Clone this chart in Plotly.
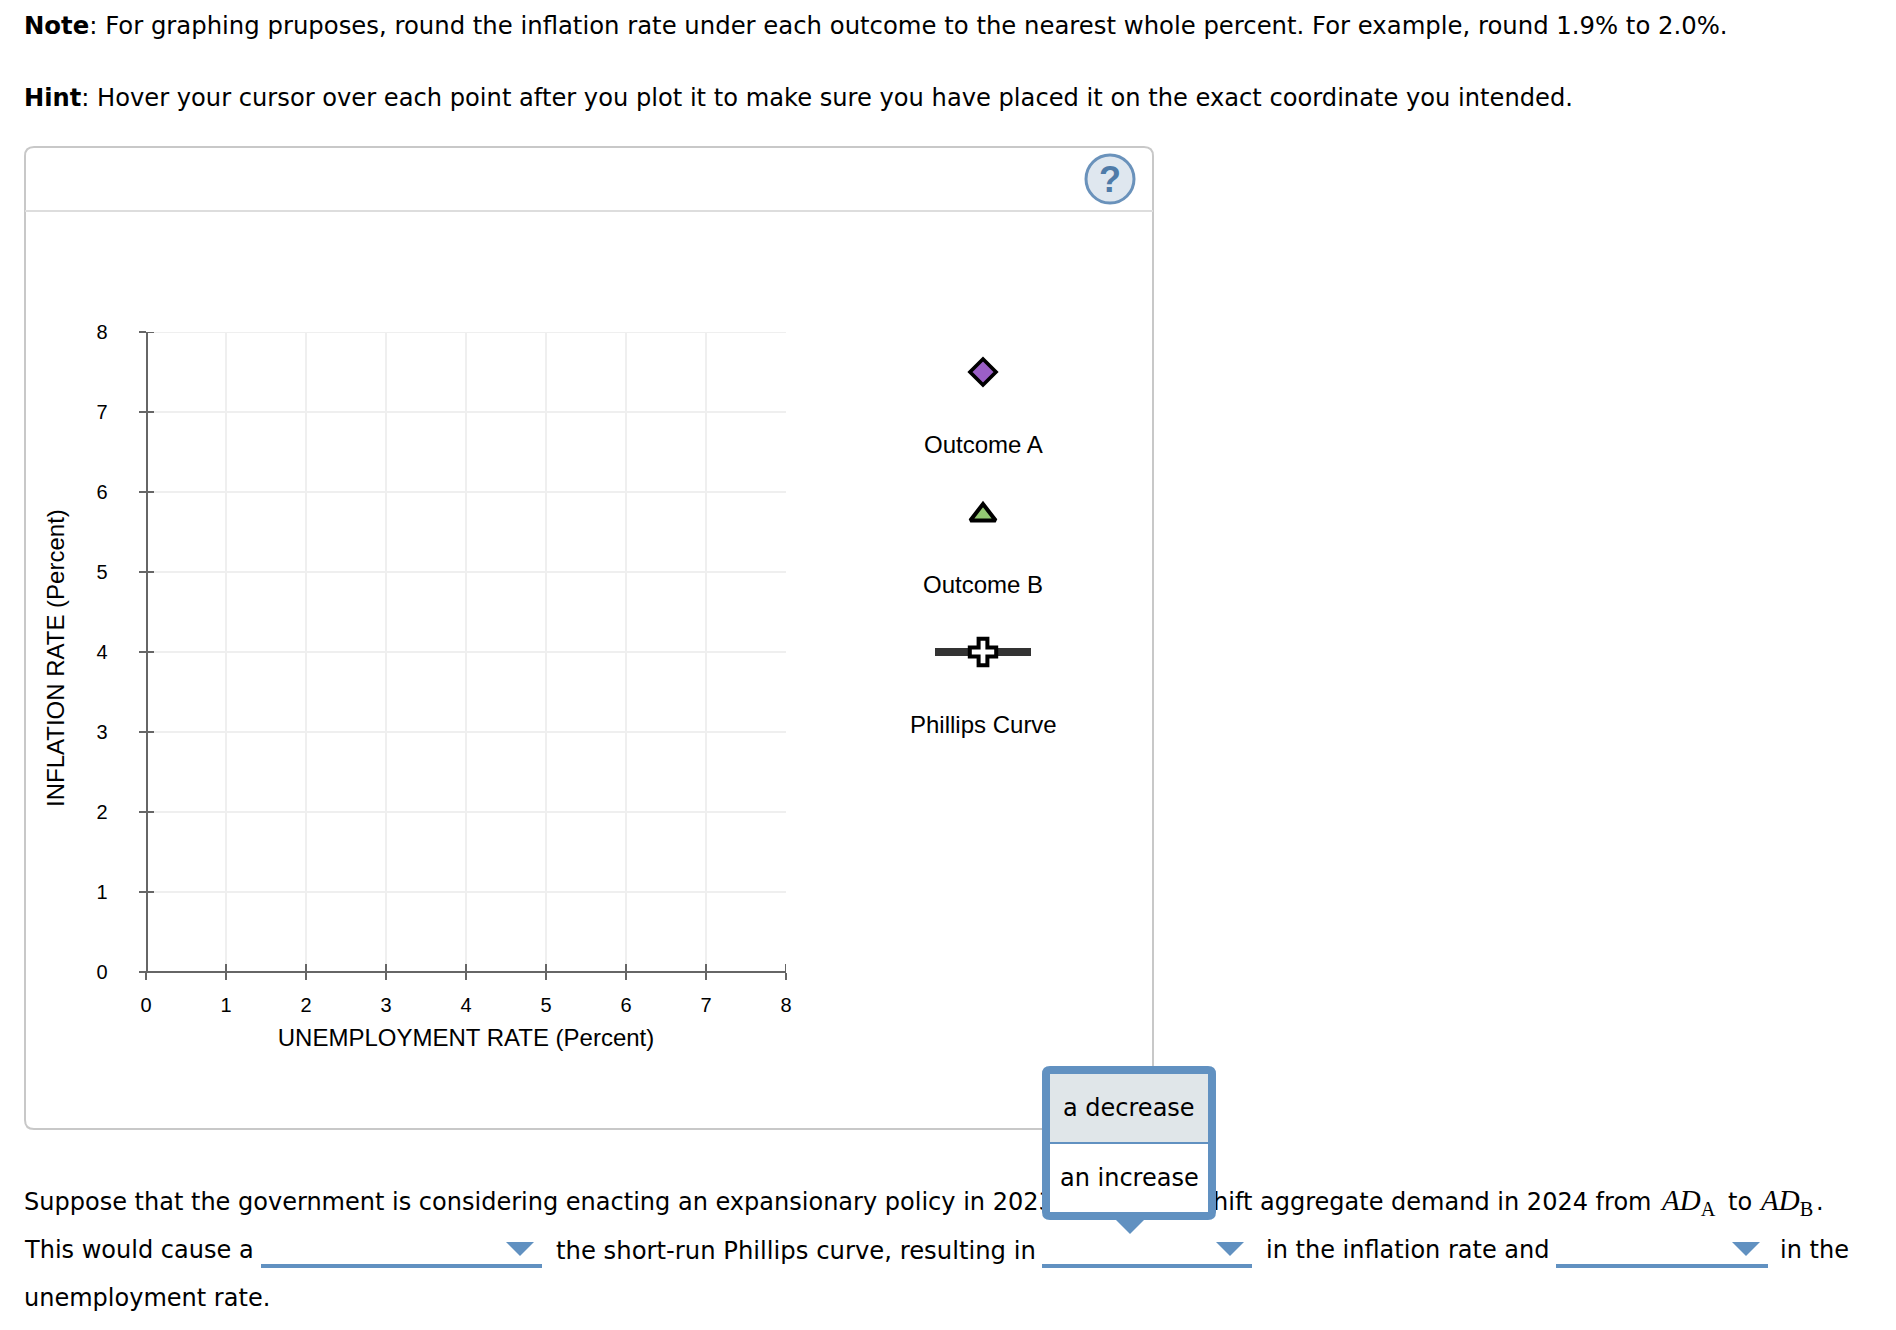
import plotly.graph_objects as go

x_ticks = [0, 1, 2, 3, 4, 5, 6, 7, 8]
y_ticks = [0, 1, 2, 3, 4, 5, 6, 7, 8]
x_title = "UNEMPLOYMENT RATE (Percent)"
y_title = "INFLATION RATE (Percent)"

palette_labels = ["Outcome A", "Outcome B", "Phillips Curve"]
dropdown_options = ["a decrease", "an increase"]

# page is 1896x1330, browser keeps 8px of body margin around the plot
page_margin = 8
W = 1880
H = 1314
blue = "#6191c1"
body_font = "DejaVu Sans"
chart_font = "Liberation Sans"
body_size = 24.03


def round_rect(x0, y0, x1, y1, r):
    return (f"M {x0+r} {y0} L {x1-r} {y0} Q {x1} {y0} {x1} {y0+r} L {x1} {y1-r} Q {x1} {y1} {x1-r} {y1} "
            f"L {x0+r} {y1} Q {x0} {y1} {x0} {y1-r} L {x0} {y0+r} Q {x0} {y0} {x0+r} {y0} Z")


fig = go.Figure()

# layout pieces live on a second pair of axes that count page pixels
fig.add_trace(go.Scatter(x=[935, 1031], y=[652, 652], mode="lines", xaxis="x2", yaxis="y2",
                         line=dict(color="#333333", width=8), hoverinfo="skip", showlegend=False))
fig.add_trace(go.Scatter(x=[983], y=[372], mode="markers", xaxis="x2", yaxis="y2", showlegend=False,
                         marker=dict(symbol="diamond", size=20, color="#9b5fc6", line=dict(color="black", width=3.7))))
fig.add_trace(go.Scatter(x=[983], y=[515], mode="markers", xaxis="x2", yaxis="y2", showlegend=False,
                         marker=dict(symbol="triangle-up", size=22, color="#94c973", line=dict(color="black", width=4))))
fig.add_trace(go.Scatter(x=[983], y=[652], mode="markers", xaxis="x2", yaxis="y2", showlegend=False,
                         marker=dict(symbol="cross", size=22, color="white", line=dict(color="black", width=4))))

# these two run under the open dropdown, so they have to be in the trace layer
fig.add_trace(go.Scatter(x=[24], y=[1204], mode="text", xaxis="x2", yaxis="y2", showlegend=False,
                         text=["Suppose that the government is considering enacting an expansionary policy in 2023"],
                         textposition="middle right", textfont=dict(family=body_font, size=body_size, color="black")))
fig.add_trace(go.Scatter(x=[1200.5], y=[1204], mode="text", xaxis="x2", yaxis="y2", showlegend=False,
                         text=["shift aggregate demand in 2024 from"],
                         textposition="middle right", textfont=dict(family=body_font, size=body_size, color="black")))

fig.update_layout(
    width=W, height=H, margin=dict(l=0, r=0, t=0, b=0, autoexpand=False), autosize=False,
    paper_bgcolor="white", plot_bgcolor="rgba(0,0,0,0)", showlegend=False,
    xaxis=dict(domain=[(146 - page_margin) / W, (786 - page_margin) / W], range=[0, 8], automargin=False,
               anchor="free", position=(H + page_margin - 971.5) / H,
               tickmode="array", tickvals=x_ticks, ticktext=[str(t) for t in x_ticks],
               ticks="outside", ticklen=7, tickwidth=2, tickcolor="#666666",
               showline=True, linecolor="#666666", linewidth=2,
               showgrid=True, gridcolor="#efefef", gridwidth=2, zeroline=False,
               ticklabelstandoff=8, tickfont=dict(family=chart_font, size=20, color="black"),
               title=dict(text=x_title, standoff=14, font=dict(family=chart_font, size=24, color="black"))),
    yaxis=dict(domain=[(H + page_margin - 972) / H, (H + page_margin - 332) / H], range=[0, 8], automargin=False,
               anchor="free", position=(146.5 - page_margin) / W,
               tickmode="array", tickvals=y_ticks, ticktext=[str(t) for t in y_ticks],
               ticks="outside", ticklen=7, tickwidth=2, tickcolor="#666666",
               showline=True, linecolor="#666666", linewidth=2,
               showgrid=True, gridcolor="#efefef", gridwidth=2, zeroline=False,
               ticklabelstandoff=27, tickfont=dict(family=chart_font, size=20, color="black")),
    xaxis2=dict(domain=[0, 1], range=[page_margin, W + page_margin], visible=False, anchor="y2", automargin=False),
    yaxis2=dict(domain=[0, 1], range=[H + page_margin, page_margin], visible=False, anchor="x2", automargin=False),
)

# ticks also poke 8px into the plot
for t in x_ticks:
    fig.add_shape(type="line", xref="x", yref="y", ysizemode="pixel", yanchor=0, x0=t, x1=t, y0=0, y1=8,
                  line=dict(color="#666666", width=2))
for t in y_ticks:
    fig.add_shape(type="line", xref="x", yref="y", xsizemode="pixel", xanchor=0, y0=t, y1=t, x0=0, x1=8,
                  line=dict(color="#666666", width=2))

# top grid line of the plot
fig.add_shape(type="line", xref="x", yref="y", x0=x_ticks[0], x1=x_ticks[-1], y0=y_ticks[-1], y1=y_ticks[-1],
              line=dict(color="#efefef", width=2), layer="below")

# panel + header rule + help button
fig.add_shape(type="path", xref="x2", yref="y2", path=round_rect(25, 147, 1153, 1129, 9),
              line=dict(color="#c8c8c8", width=2), layer="below")
fig.add_shape(type="line", xref="x2", yref="y2", x0=25, x1=1153, y0=211, y1=211,
              line=dict(color="#dddddd", width=2), layer="below")
fig.add_shape(type="circle", xref="x2", yref="y2", x0=1086, x1=1134, y0=155, y1=203,
              fillcolor="#dfe7ef", line=dict(color="#6a92bb", width=3))

# dropdown underlines and their arrows
for x0, x1 in [(261, 542), (1042, 1252), (1556, 1768)]:
    fig.add_shape(type="line", xref="x2", yref="y2", x0=x0, x1=x1, y0=1266, y1=1266, line=dict(color=blue, width=4))
    fig.add_shape(type="path", xref="x2", yref="y2",
                  path=f"M {x1-36} 1242 L {x1-8} 1242 L {x1-22} 1256 Z", fillcolor=blue, line=dict(width=0))

# the open popup, drawn above the traces
fig.add_shape(type="path", xref="x2", yref="y2", path=round_rect(1042, 1066, 1216, 1220, 8),
              fillcolor=blue, line=dict(width=0), layer="above")
fig.add_shape(type="rect", xref="x2", yref="y2", x0=1050, x1=1208, y0=1074, y1=1142,
              fillcolor="#e0e6e9", line=dict(width=0), layer="above")
fig.add_shape(type="rect", xref="x2", yref="y2", x0=1050, x1=1208, y0=1144, y1=1212,
              fillcolor="white", line=dict(width=0), layer="above")
fig.add_shape(type="path", xref="x2", yref="y2", path="M 1116 1220 L 1144 1220 L 1130 1234 Z",
              fillcolor=blue, line=dict(width=0), layer="above")


def note(text, x, y, family=body_font, size=body_size, anchor="left", **kw):
    fig.add_annotation(text=text, x=x, y=y, xref="x2", yref="y2", showarrow=False, xanchor=anchor, yanchor="middle",
                       font=dict(family=family, size=size, color=kw.pop("color", "black")), **kw)


note("<b>Note</b>: For graphing pruposes, round the inflation rate under each outcome to the nearest whole percent. "
     "For example, round 1.9% to 2.0%.", 21.5, 25, size=24.34)
note("<b>Hint</b>: Hover your cursor over each point after you plot it to make sure you have placed it on the "
     "exact coordinate you intended.", 21.5, 98, size=24.16)

note("This would cause a", 21.5, 1250)
note("the short-run Phillips curve, resulting in", 553.5, 1250, size=24.3)
note("in the inflation rate and", 1264, 1250)
note("in the", 1778, 1250)
note("unemployment rate.", 21.5, 1298)

note("<i>AD</i><sub>A</sub>", 1657.5, 1202, family="Liberation Serif", size=29)
note("to", 1725.5, 1202)
note("<i>AD</i><sub>B</sub>", 1756.5, 1202, family="Liberation Serif", size=29)
note(".", 1814, 1202)

note(dropdown_options[0], 1129, 1108, anchor="center", size=24)
note(dropdown_options[1], 1129, 1178, anchor="center", size=24)

note("<b>?</b>", 1110, 179, family=chart_font, size=36, anchor="center", color="#4f7ba8")

note(palette_labels[0], 983, 444, family=chart_font, size=24, anchor="center")
note(palette_labels[1], 983, 584, family=chart_font, size=24, anchor="center")
note(palette_labels[2], 983, 724, family=chart_font, size=24, anchor="center")

note(y_title, 55, 658, family=chart_font, size=24, anchor="center", textangle=-90)

fig.write_html("out.html")
